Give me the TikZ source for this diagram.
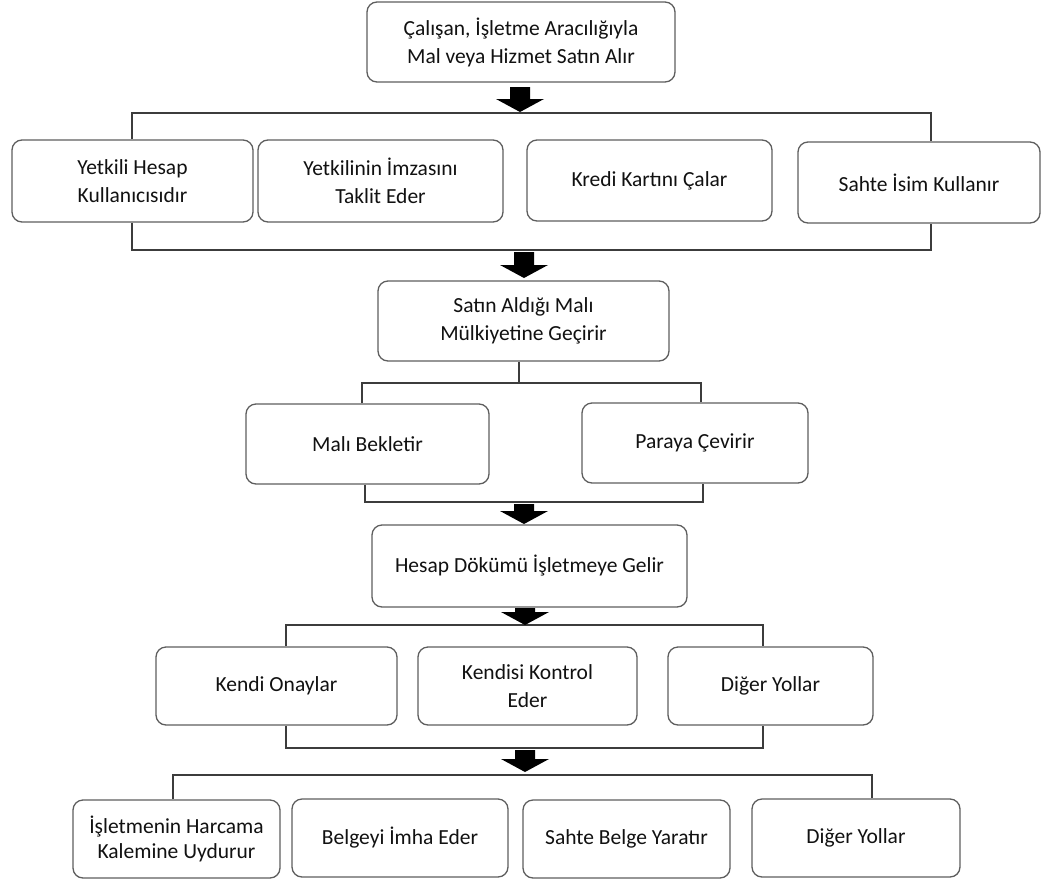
\documentclass[tikz,border=0pt]{standalone}
\usepackage{fontspec}
\setmainfont{Carlito}
\usetikzlibrary{calc}
\definecolor{boxgray}{HTML}{5E5E5E}
\definecolor{linegray}{HTML}{3C3C3C}
\definecolor{txt}{HTML}{111111}

% solid block arrow pointing down from #1 (shaft top) to #2 (tip)
\newcommand{\blockarrow}[2]{%
  \fill[black] let \p1=(#1), \p2=(#2) in
    (\x1-10pt,\y1) -- (\x1+10pt,\y1) -- (\x1+10pt,\y2+13pt) -- (\x1+24pt,\y2+13pt)
    -- (\x2,\y2) -- (\x1-24pt,\y2+13pt) -- (\x1-10pt,\y2+13pt) -- cycle;}

\begin{document}
\begin{tikzpicture}[x=1pt,y=-1pt,
  box/.style={draw=boxgray,line width=1.3pt,rounded corners=10pt,fill=white,
    align=center,inner sep=0pt,text=txt,
    font=\fontsize{21.5pt}{28pt}\selectfont},
  sz/.style 2 args={minimum width=#1pt,minimum height=#2pt},
  link/.style={draw=linegray,line width=1.4pt},
  tight/.style={font=\fontsize{21.5pt}{25pt}\selectfont},
  ]
\useasboundingbox (0,0) rectangle (1050,884);

% level 0
\node[box,sz={308}{80}] (top) at (521,42) {Çalışan, İşletme Aracılığıyla\\Mal veya Hizmet Satın Alır};

% level 1
\node[box,sz={241}{82}] (r1a) at (132.5,181) {Yetkili Hesap\\Kullanıcısıdır};
\node[box,sz={245}{82}] (r1b) at (380.5,181) {Yetkilinin İmzasını\\Taklit Eder};
\node[box,sz={245}{81}] (r1c) at (649.5,180.5) {Kredi Kartını Çalar};
\node[box,sz={242}{81}] (r1d) at (919,182.5) {Sahte İsim Kullanır};

% level 2
\node[box,sz={291}{80}] (own) at (523.5,321) {Satın Aldığı Malı\\Mülkiyetine Geçirir};

% level 3
\node[box,sz={243}{80}] (keep) at (367.5,444) {Malı Bekletir};
\node[box,sz={226}{80}] (cash) at (695,443) {Paraya Çevirir};

% level 4
\node[box,sz={315}{82}] (stmt) at (529.5,566) {Hesap Dökümü İşletmeye Gelir};

% level 5
\node[box,sz={241}{78}] (r5a) at (276.5,686) {Kendi Onaylar};
\node[box,sz={219}{78}] (r5b) at (527.5,686) {Kendisi Kontrol\\Eder};
\node[box,sz={205}{78}] (r5c) at (770.5,686) {Diğer Yollar};

% level 6
\node[box,tight,sz={207}{78}] (r6a) at (176.5,839) {İşletmenin Harcama\\Kalemine Uydurur};
\node[box,sz={216}{78}] (r6b) at (400,838) {Belgeyi İmha Eder};
\node[box,sz={207}{78}] (r6c) at (626.5,839) {Sahte Belge Yaratır};
\node[box,sz={208}{78}] (r6d) at (856,838) {Diğer Yollar};

% bracket joints
\coordinate (j1l) at (132,113);  \coordinate (j1r) at (931,113);
\coordinate (k1l) at (132,250);  \coordinate (k1r) at (931,250);
\coordinate (j2)  at (519,383);
\coordinate (j2l) at (362,383);  \coordinate (j2r) at (701,383);
\coordinate (k2l) at (365,502);  \coordinate (k2r) at (703,502);
\coordinate (j3l) at (286,625);  \coordinate (j3r) at (763,625);
\coordinate (k3l) at (286,748);  \coordinate (k3r) at (763,748);
\coordinate (j4l) at (173,775);  \coordinate (j4r) at (872,775);

% brackets
\draw[link] (r1a.north -| j1l) -- (j1l) -- (j1r) -- (r1d.north -| j1r);
\draw[link] (r1a.south -| k1l) -- (k1l) -- (k1r) -- (r1d.south -| k1r);
\draw[link] (own.south -| j2) -- (j2);
\draw[link] (keep.north -| j2l) -- (j2l) -- (j2r) -- (cash.north -| j2r);
\draw[link] (keep.south -| k2l) -- (k2l) -- (k2r) -- (cash.south -| k2r);
\draw[link] (r5a.north -| j3l) -- (j3l) -- (j3r) -- (r5c.north -| j3r);
\draw[link] (r5a.south -| k3l) -- (k3l) -- (k3r) -- (r5c.south -| k3r);
\draw[link] (r6a.north -| j4l) -- (j4l) -- (j4r) -- (r6d.north -| j4r);

% block arrows
\coordinate (a1s) at (520,87);  \coordinate (a1e) at (520,112);
\coordinate (a2s) at (524,252); \coordinate (a2e) at (524,278);
\coordinate (a3s) at (524,504); \coordinate (a3e) at (524,524);
\coordinate (a4s) at (525,608); \coordinate (a4e) at (525,625);
\coordinate (a5s) at (525,750); \coordinate (a5e) at (525,772);
\blockarrow{a1s}{a1e}
\blockarrow{a2s}{a2e}
\blockarrow{a3s}{a3e}
\blockarrow{a4s}{a4e}
\blockarrow{a5s}{a5e}
\end{tikzpicture}
\end{document}
